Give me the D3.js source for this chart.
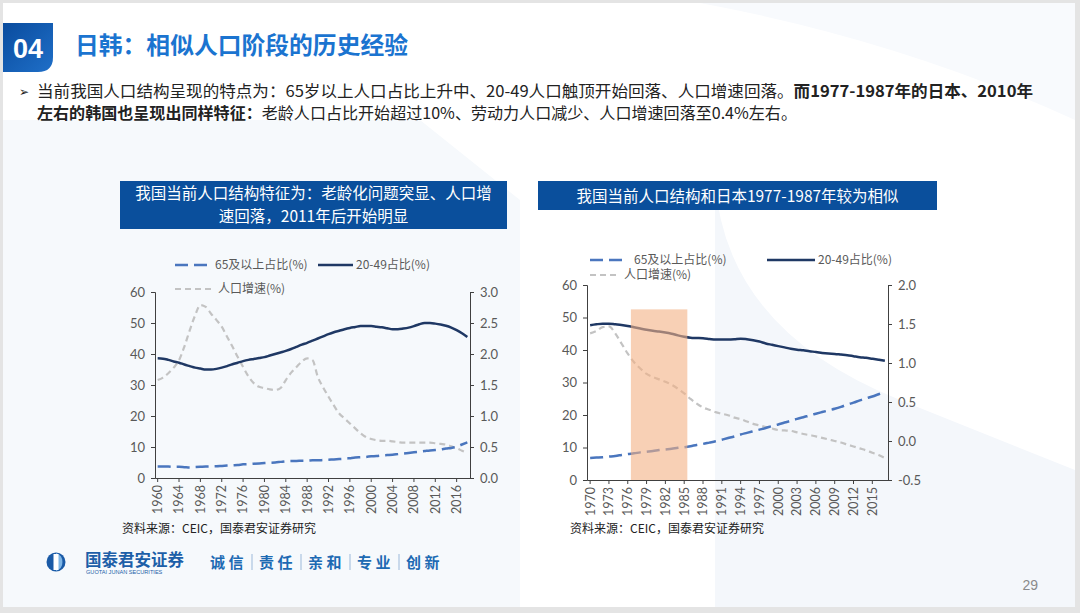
<!DOCTYPE html>
<html><head><meta charset="utf-8">
<script src="https://cdn.jsdelivr.net/npm/d3@7"></script>
<style>
html,body{margin:0;padding:0;background:#e6e6e6;}
svg{display:block;font-family:"Noto Sans CJK SC","Noto Sans",sans-serif;}
</style></head><body>
<svg id="c" width="1080" height="613"></svg>
<script>
// ---------- data ----------
const cnYears = d3.range(1960, 2019);
const cnAged65 = [3.7,3.7,3.7,3.6,3.6,3.5,3.4,3.5,3.6,3.7,3.75,3.8,3.9,4.0,4.1,4.2,4.4,4.5,4.6,4.7,4.8,4.9,5.0,5.2,5.4,5.5,5.5,5.6,5.6,5.7,5.7,5.8,5.9,6.0,6.1,6.2,6.4,6.6,6.7,6.8,7.0,7.1,7.3,7.4,7.5,7.7,7.9,8.1,8.3,8.5,8.7,8.9,9.0,9.2,9.5,9.7,10.1,10.8,11.5];
const cnAge2049 = [38.6,38.5,38.1,37.6,37.2,36.6,36.1,35.6,35.3,35.0,35.0,35.2,35.6,36.1,36.7,37.2,37.7,38.1,38.4,38.7,39.0,39.5,40.0,40.5,41.0,41.6,42.3,43.0,43.6,44.3,45.0,45.7,46.4,47.0,47.5,48.0,48.4,48.7,49.0,49.0,49.0,48.8,48.6,48.3,48.0,48.0,48.2,48.5,49.0,49.6,50.0,50.0,49.8,49.5,49.1,48.5,47.7,46.7,45.5];
const cnGrowth = [1.58,1.62,1.69,1.78,1.90,2.12,2.38,2.62,2.79,2.76,2.65,2.55,2.44,2.28,2.12,1.95,1.79,1.64,1.53,1.47,1.45,1.43,1.42,1.45,1.58,1.70,1.79,1.88,1.93,1.90,1.63,1.46,1.31,1.17,1.04,0.96,0.88,0.80,0.72,0.66,0.63,0.61,0.60,0.60,0.59,0.58,0.57,0.57,0.57,0.57,0.57,0.57,0.56,0.55,0.54,0.51,0.48,0.44,0.40];
const cnTickYears = d3.range(1960, 2017, 4);
const cnLeftTicks = [0,10,20,30,40,50,60];
const cnRightTicks = [0,0.5,1.0,1.5,2.0,2.5,3.0];

const jpYears = d3.range(1970, 2018);
const jpAged65 = [6.8,6.9,7.0,7.2,7.4,7.7,8.0,8.2,8.5,8.7,8.9,9.2,9.4,9.6,9.9,10.1,10.4,10.8,11.1,11.5,11.9,12.4,12.9,13.4,14.0,14.5,15.0,15.5,16.0,16.6,17.1,17.7,18.2,18.8,19.3,19.9,20.4,20.9,21.4,21.9,22.5,23.2,23.8,24.5,25.1,25.7,26.4,27.1];
const jpAge2049 = [47.6,47.9,48.1,48.1,47.9,47.7,47.4,47.0,46.6,46.2,45.9,45.7,45.4,45.0,44.5,44.1,43.8,43.7,43.6,43.4,43.2,43.2,43.2,43.3,43.5,43.3,43.0,42.6,42.0,41.6,41.2,40.8,40.4,40.1,39.9,39.6,39.4,39.1,38.9,38.8,38.6,38.4,38.1,37.8,37.6,37.3,37.0,36.7];
const jpGrowth = [1.38,1.41,1.46,1.47,1.38,1.25,1.12,1.01,0.93,0.86,0.82,0.79,0.76,0.72,0.67,0.61,0.54,0.48,0.43,0.40,0.37,0.35,0.33,0.30,0.28,0.25,0.22,0.20,0.18,0.16,0.14,0.135,0.13,0.11,0.09,0.075,0.06,0.04,0.02,0.0,-0.02,-0.045,-0.07,-0.095,-0.12,-0.15,-0.18,-0.22];
const jpTickYears = d3.range(1970, 2016, 3);
const jpLeftTicks = [0,10,20,30,40,50,60];
const jpRightTicks = [-0.5,0,0.5,1.0,1.5,2.0];
const jpShadeRange = [1977, 1986];
const jpShadeTop = 52.5;

const seriesNames = ["65及以上占比(%)", "20-49占比(%)", "人口增速(%)"];

// ---------- styles ----------
const C_NAVY = "#1f3864", C_BLUE = "#4a76be", C_GRAY = "#c3c3c3";
const svg = d3.select("#c");

// slide background
svg.append("rect").attr("x",0).attr("y",0).attr("width",1080).attr("height",613).attr("fill","#e4e4e4");
svg.append("rect").attr("x",3).attr("y",3).attr("width",1072).attr("height",604).attr("fill","#ffffff");
svg.append("path").attr("d","M3,120 L420,120 L520,200 L520,607 L3,607 Z").attr("fill","#f6f9fc");
svg.append("path").attr("d","M715,180 Q725,330 900,400 L1075,470 L1075,607 L715,607 Z").attr("fill","#f4f7fb");
svg.append("path").attr("d","M700,3 L1075,3 L1075,120 Q900,40 700,3 Z").attr("fill","#f8fafd");

// header
const grad = svg.append("defs").append("linearGradient").attr("id","hg").attr("x1",0).attr("y1",0).attr("x2",1).attr("y2",1);
grad.append("stop").attr("offset","0%").attr("stop-color","#0a4c9e");
grad.append("stop").attr("offset","100%").attr("stop-color","#1f6fc8");
svg.append("path").attr("d","M3,23 L53,23 L53,57 Q53,72 38,72 L3,72 Z").attr("fill","url(#hg)");
svg.append("text").attr("x",28).attr("y",58).attr("text-anchor","middle").attr("fill","#fff")
  .attr("font-size",27).attr("font-weight","bold").attr("font-family","Liberation Sans, Arial").text("04");
svg.append("text").attr("x",75).attr("y",54).attr("fill","#1b74d0").attr("font-size",23.5).attr("font-weight","bold")
  .attr("textLength",333).attr("lengthAdjust","spacingAndGlyphs")
  .text("日韩：相似人口阶段的历史经验");

svg.append("text").attr("x",19).attr("y",96).attr("font-size",12).attr("fill","#222").text("➢");
const t1 = svg.append("text").attr("x",37).attr("y",97).attr("font-size",16).attr("fill","#222")
  .attr("textLength",996).attr("lengthAdjust","spacingAndGlyphs");
t1.append("tspan").text("当前我国人口结构呈现的特点为：65岁以上人口占比上升中、20-49人口触顶开始回落、人口增速回落。");
t1.append("tspan").attr("font-weight","bold").text("而1977-1987年的日本、2010年");
const t2 = svg.append("text").attr("x",37).attr("y",119).attr("font-size",16).attr("fill","#222")
  .attr("textLength",760).attr("lengthAdjust","spacingAndGlyphs");
t2.append("tspan").attr("font-weight","bold").text("左右的韩国也呈现出同样特征：");
t2.append("tspan").text("老龄人口占比开始超过10%、劳动力人口减少、人口增速回落至0.4%左右。");

// ---------- chart builder ----------
function chart(o){
  const g = svg.append("g");
  g.append("rect").attr("x",o.box[0]).attr("y",o.box[1]).attr("width",o.box[2]).attr("height",o.box[3]).attr("fill","#0a4f9c");
  o.title.forEach((t,i)=>{
    g.append("text").attr("x",o.box[0]+o.box[2]/2).attr("y",o.titleY[i]).attr("text-anchor","middle")
      .attr("fill","#fff").attr("font-size",15.5).text(t);
  });
  const x = d3.scaleBand().domain(o.years).range([o.x0,o.x1]);
  const cx = d => x(d)+x.bandwidth()/2;
  const yL = d3.scaleLinear().domain(o.lDom).range([o.yb,o.yt]);
  const yR = d3.scaleLinear().domain(o.rDom).range([o.yb,o.yt]);

  const line = (vals, ys) => d3.line().curve(d3.curveMonotoneX)
     .x((d,i)=>cx(o.years[i])).y(d=>ys(d))(vals);
  g.append("path").attr("d",line(o.growth,yR)).attr("fill","none").attr("stroke",C_GRAY).attr("stroke-width",2.2).attr("stroke-dasharray","6,4");
  g.append("path").attr("d",line(o.labor,yL)).attr("fill","none").attr("stroke",C_NAVY).attr("stroke-width",2.5);
  g.append("path").attr("d",line(o.aged,yL)).attr("fill","none").attr("stroke",C_BLUE).attr("stroke-width",2.5).attr("stroke-dasharray","13,6");

  if(o.shade){
    g.append("rect").attr("x",x(o.shade[0])).attr("width",x(o.shade[1])-x(o.shade[0]))
      .attr("y",yL(o.shadeTop)).attr("height",yL(0)-yL(o.shadeTop)).attr("fill","#f4b183").attr("opacity",0.6);
  }

  const axStyle = sel => {
    sel.selectAll("path,line").attr("stroke","#404040");
    sel.selectAll("text").attr("fill","#595959").attr("font-size",13).attr("font-family","Lato, 'Noto Sans', sans-serif");
  };
  g.append("g").attr("transform",`translate(${o.x0},0)`)
    .call(d3.axisLeft(yL).tickValues(o.lTicks).tickSize(4).tickSizeOuter(4).tickPadding(6)).call(axStyle);
  g.append("g").attr("transform",`translate(${o.x1},0)`)
    .call(d3.axisRight(yR).tickValues(o.rTicks).tickSize(4).tickSizeOuter(4).tickPadding(6).tickFormat(d=>d.toFixed(1))).call(axStyle);
  const xa = g.append("g").attr("transform",`translate(0,${o.yb})`)
    .call(d3.axisBottom(x).tickValues(o.tickYears).tickSize(4).tickSizeOuter(0)).call(axStyle);
  xa.selectAll("text").attr("transform","rotate(-90)").attr("text-anchor","end")
    .attr("x",-7).attr("y",0).attr("dy","0.35em").attr("font-size",12.5);

  const lg = o.legend;
  const leg = (x1,x2,y,col,dash,w,label,tx) => {
    g.append("line").attr("x1",x1).attr("x2",x2).attr("y1",y).attr("y2",y).attr("stroke",col).attr("stroke-width",w).attr("stroke-dasharray",dash);
    g.append("text").attr("x",tx).attr("y",y).attr("dy","0.35em").attr("font-size",12).attr("fill","#595959").text(label);
  };
  leg(lg[0][0],lg[0][1],lg[0][2],C_BLUE,"13,6",2.5,seriesNames[0],lg[0][3]);
  leg(lg[1][0],lg[1][1],lg[1][2],C_NAVY,null,2.5,seriesNames[1],lg[1][3]);
  leg(lg[2][0],lg[2][1],lg[2][2],C_GRAY,"6,4",2.2,seriesNames[2],lg[2][3]);

  g.append("text").attr("x",o.src[0]).attr("y",o.src[1]).attr("dy","0.35em").attr("font-size",12).attr("fill","#222")
    .text("资料来源：CEIC，国泰君安证券研究");
}

chart({
  box:[120,181,387,48], title:["我国当前人口结构特征为：老龄化问题突显、人口增","速回落，2011年后开始明显"], titleY:[199,222],
  years:cnYears, aged:cnAged65, labor:cnAge2049, growth:cnGrowth,
  x0:155, x1:470, yb:478, yt:292, lDom:[0,60], rDom:[0,3], lTicks:cnLeftTicks, rTicks:cnRightTicks, tickYears:cnTickYears,
  legend:[[175,212,265,215],[318,353,265,356],[175,212,289,218]],
  src:[122,529]
});
chart({
  box:[538,181,399,29], title:["我国当前人口结构和日本1977-1987年较为相似"], titleY:[202],
  years:jpYears, aged:jpAged65, labor:jpAge2049, growth:jpGrowth,
  x0:587, x1:888, yb:480, yt:285, lDom:[0,60], rDom:[-0.5,2], lTicks:jpLeftTicks, rTicks:jpRightTicks, tickYears:jpTickYears,
  shade:jpShadeRange, shadeTop:jpShadeTop,
  legend:[[590,628,260,634],[767,815,260,818],[590,620,275,624]],
  src:[570,529]
});

// footer
const fg = svg.append("g");
fg.append("circle").attr("cx",56).attr("cy",562).attr("r",9.5).attr("fill","#1a5aa6");
fg.append("path").attr("d","M56,553 A9.5,9.5 0 0 1 56,571 Z").attr("fill","#7fb6e6");
fg.append("rect").attr("x",53.5).attr("y",554).attr("width",5).attr("height",16).attr("fill","#ffffff");
fg.append("text").attr("x",85).attr("y",566).attr("font-size",16.5).attr("font-weight","bold").attr("fill","#1d5fa8").text("国泰君安证券");
fg.append("text").attr("x",86).attr("y",574).attr("font-size",5.6).attr("fill","#1d5fa8").attr("font-family","Liberation Sans, Arial").text("GUOTAI JUNAN SECURITIES");
const motto = ["诚 信","责 任","亲 和","专 业","创 新"];
motto.forEach((m,i)=>{
  fg.append("text").attr("x",210+i*49).attr("y",568).attr("font-size",15).attr("font-weight","bold").attr("fill","#1d6ab3").text(m);
  if(i<4) fg.append("line").attr("x1",252+i*49).attr("x2",252+i*49).attr("y1",554).attr("y2",570).attr("stroke","#9cb9da").attr("stroke-width",1);
});
fg.append("text").attr("x",1038).attr("y",590).attr("text-anchor","end").attr("font-size",14).attr("fill","#8a8a8a").attr("font-family","Liberation Sans, Arial").text("29");
</script>
</body></html>
